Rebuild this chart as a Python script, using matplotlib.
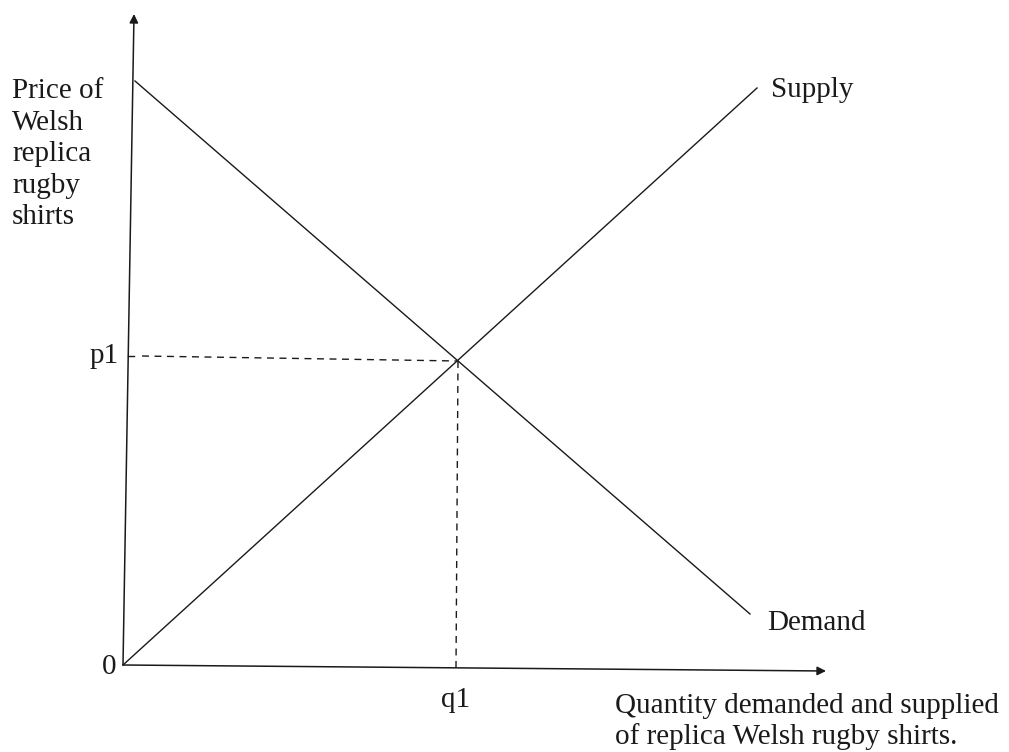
import matplotlib.pyplot as plt

plt.rcParams['font.family'] = ['Liberation Serif', 'DejaVu Serif']

# diagram coordinates (x to the right, y upward)
origin = (123, 87)
y_axis_top = (134, 738)
x_axis_end = (826, 81)

supply_x = [123, 757]
supply_y = [87, 664]
demand_x = [135, 750]
demand_y = [671, 138]

equilibrium = (458, 391)
p1_tick = (128, 396)
q1_foot = (456, 84)

ink = '#1a1a1a'

fig = plt.figure(figsize=(10.09, 7.52), dpi=100)
ax = fig.add_axes([0, 0, 1, 1])
ax.set_xlim(0, 1009)
ax.set_ylim(0, 752)
ax.axis('off')

# axes with arrow heads
for end in (y_axis_top, x_axis_end):
    ax.annotate('', xy=end, xytext=origin,
                arrowprops=dict(arrowstyle='-|>', color=ink, lw=1.1,
                                mutation_scale=13, shrinkA=0, shrinkB=0))

ax.plot(supply_x, supply_y, color=ink, lw=1.0)
ax.plot(demand_x, demand_y, color=ink, lw=1.0)

# equilibrium guides
ax.plot([p1_tick[0] + 14, equilibrium[0]], [p1_tick[1], equilibrium[1]],
        color=ink, lw=1.0, dashes=(5, 4))
ax.plot([p1_tick[0], p1_tick[0] + 6], [p1_tick[1], p1_tick[1]], color=ink, lw=1.0)
ax.plot([equilibrium[0], q1_foot[0]], [equilibrium[1], q1_foot[1]],
        color=ink, lw=1.0, dashes=(5, 4))

fs = 21
ax.text(12, 674, 'Price of\nWelsh\nreplica\nrugby\nshirts', fontsize=fs,
        va='top', ha='left', color=ink, linespacing=1.28)
ax.text(119, 396, 'p1', fontsize=fs, ha='right', va='center', color=ink)
ax.text(116, 85, '0', fontsize=fs, ha='right', va='center', color=ink)
ax.text(456, 52, 'q1', fontsize=fs, ha='center', va='center', color=ink)
ax.text(615, 59, 'Quantity demanded and supplied\nof replica Welsh rugby shirts.',
        fontsize=fs, ha='left', va='top', color=ink, linespacing=1.2)
ax.text(771, 662, 'Supply', fontsize=fs, ha='left', va='center', color=ink)
ax.text(767, 129, 'Demand', fontsize=fs, ha='left', va='center', color=ink)

fig.savefig('out.png', dpi=100)
